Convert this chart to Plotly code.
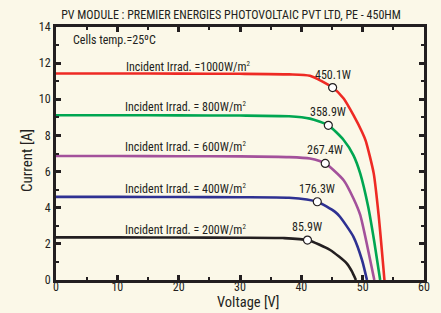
import plotly.graph_objects as go

# ---- data ----
labels = ["1000", "800", "600", "400", "200"]
colors = ["#ee2a24", "#00a651", "#a3519b", "#2e3192", "#231f20"]

v_1000 = [0, 10, 20, 30, 38, 41.4, 45.1, 46.9, 48.5, 49.9, 50.5, 51.8, 52.6, 53.55]
i_1000 = [11.43, 11.43, 11.42, 11.41, 11.38, 11.3, 10.65, 10.04, 9.12, 8.19, 7.7, 5.9, 3.6, 0]

v_800 = [0, 10, 20, 30, 38, 41.4, 44.4, 46.9, 48.5, 49.6, 50.9, 51.9, 52.85]
i_800 = [9.12, 9.12, 9.11, 9.1, 9.06, 8.93, 8.56, 7.75, 6.9, 5.9, 4.05, 2.1, 0]

v_600 = [0, 10, 20, 30, 38, 41.4, 43.9, 46.9, 48.5, 49.6, 50.8, 51.9]
i_600 = [6.86, 6.86, 6.85, 6.84, 6.8, 6.72, 6.45, 5.52, 4.51, 3.6, 1.8, 0]

v_400 = [0, 10, 20, 30, 38, 42.6, 45.5, 46.3, 48.5, 49.9, 50.7]
i_400 = [4.6, 4.6, 4.59, 4.58, 4.55, 4.33, 3.77, 3.5, 2.39, 1.1, 0]

v_200 = [0, 10, 20, 30, 37, 41.0, 44.7, 47.4, 48.2, 48.9]
i_200 = [2.36, 2.36, 2.35, 2.34, 2.32, 2.21, 1.66, 0.92, 0.5, 0]

mpp_v = [45.1, 44.4, 43.9, 42.6, 41.0]
mpp_i = [10.65, 8.56, 6.45, 4.33, 2.21]
mpp_labels = ["450.1W", "358.9W", "267.4W", "176.3W", "85.9W"]

irr_text_v = [21.6, 21.1, 21.1, 21.1, 21.1]
irr_text_i = [11.8, 9.6, 7.35, 5.05, 2.75]

x_ticks = [0, 10, 20, 30, 40, 50, 60]
y_ticks = [0, 2, 4, 6, 8, 10, 12, 14]

x_title = "Voltage [V]"
y_title = "Current [A]"

curves_v = [v_1000, v_800, v_600, v_400, v_200]
curves_i = [i_1000, i_800, i_600, i_400, i_200]

FONT = "Liberation Sans Narrow, Roboto Condensed, Arial Narrow, Liberation Sans, sans-serif"
BG = "#fbf8e8"
INK = "#231f20"

fig = go.Figure()
for vs, cs, col in zip(curves_v, curves_i, colors):
    fig.add_trace(go.Scatter(x=vs, y=cs, mode="lines",
                             line=dict(color=col, width=2.6, shape="spline", smoothing=0.6),
                             hoverinfo="skip", showlegend=False))

fig.add_trace(go.Scatter(x=mpp_v, y=mpp_i, mode="markers",
                         marker=dict(size=8, color="white", line=dict(color=INK, width=1.2)),
                         showlegend=False))

for v, i, t in zip(mpp_v, mpp_i, mpp_labels):
    fig.add_annotation(x=v, y=i, text=t, showarrow=False, yshift=13,
                       font=dict(family=FONT, size=12, color=INK))

for lab, v, i in zip(labels, irr_text_v, irr_text_i):
    sep = "=" if lab == "1000" else "= "
    txt = "Incident Irrad. " + sep + lab + "W/m<sup><span style='font-size:7px'>2</span></sup>"
    fig.add_annotation(x=v, y=i, text=txt, showarrow=False,
                       font=dict(family=FONT, size=12, color=INK))

fig.add_annotation(x=0.04, y=13.3, xref="paper", yref="y", xanchor="left", text="Cells temp.=25ºC",
                   showarrow=False, font=dict(family=FONT, size=12, color=INK))

# axis titles
fig.add_annotation(x=0.522, y=-0.13, xref="paper", yref="paper", text=x_title, showarrow=False,
                   xanchor="center", yanchor="bottom", font=dict(family=FONT, size=14.5, color=INK))
fig.add_annotation(x=-0.079, y=0.474, xref="paper", yref="paper", text=y_title, showarrow=False,
                   textangle=-90, xanchor="center", yanchor="middle",
                   font=dict(family=FONT, size=15, color=INK))

axis_common = dict(showline=True, linecolor=INK, linewidth=3, mirror="allticks",
                   ticks="inside", tickcolor=INK, tickwidth=3, ticklen=5,
                   showgrid=False, zeroline=False, automargin=False,
                   tickfont=dict(family=FONT, size=12, color=INK))

fig.update_xaxes(range=[0, 60], tickvals=x_ticks, ticklabelstandoff=-6,
                 minor=dict(dtick=5, tick0=0, ticks="inside", ticklen=3, tickwidth=2, tickcolor=INK),
                 **axis_common)
fig.update_yaxes(range=[0, 14], tickvals=y_ticks,
                 minor=dict(dtick=1, tick0=0, ticks="inside", ticklen=3, tickwidth=2, tickcolor=INK),
                 **axis_common)

fig.update_layout(
    width=441, height=313,
    margin=dict(l=56, r=17, t=27, b=33),
    paper_bgcolor=BG, plot_bgcolor=BG,
    title=dict(text="PV MODULE : PREMIER ENERGIES PHOTOVOLTAIC PVT LTD, PE - 450HM",
               x=231/441, xanchor="center", y=1 - 15/313, yanchor="middle",
               font=dict(family=FONT, size=12, color=INK)),
)

fig.write_html("out.html", config={"displayModeBar": False},
               post_script="document.body.style.margin='0';document.body.style.padding='0';"
                           "document.body.style.background='" + BG + "';")
